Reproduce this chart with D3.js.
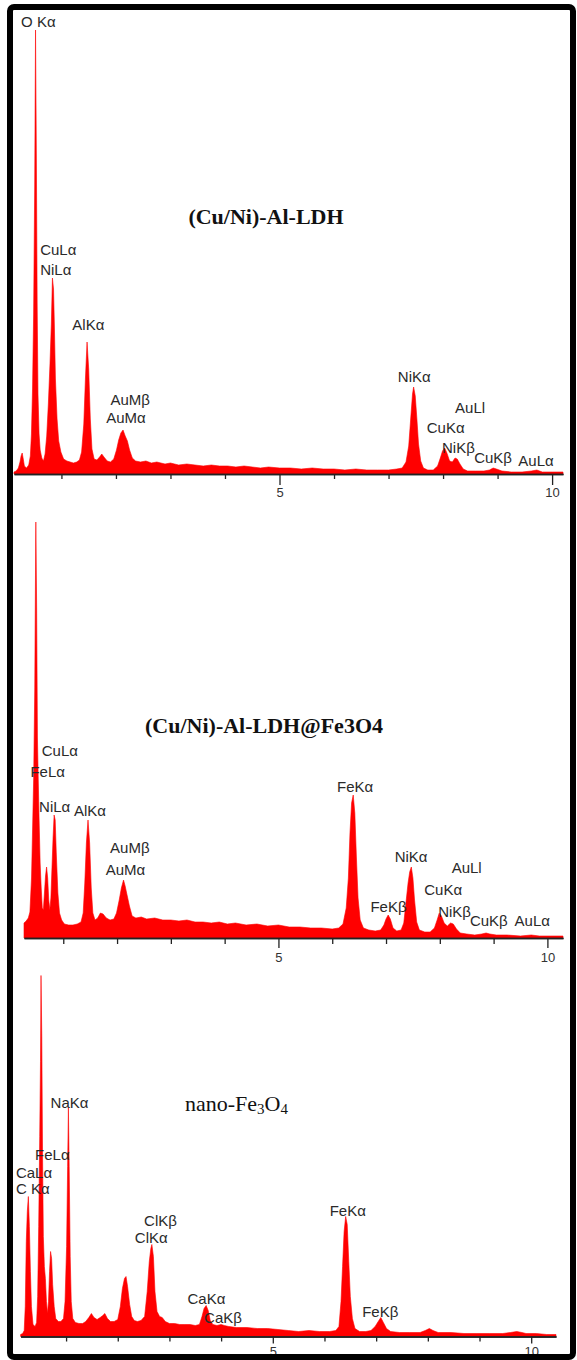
<!DOCTYPE html>
<html>
<head>
<meta charset="utf-8">
<script src="https://cdn.jsdelivr.net/npm/d3@7"></script>
<style>
  body { margin: 0; background: #fff; }
</style>
</head>
<body>
<div id="chart"></div>
<script>
// EDX spectra, [energy keV, counts]
const ldhSpectrum = [[0.13,2],[0.17,3],[0.21,6],[0.24,12],[0.26,18],[0.28,21],[0.30,15],[0.32,8],[0.36,6],[0.40,9],[0.43,18],[0.45,40],[0.47,85],[0.49,160],[0.51,290],[0.525,444],[0.54,320],[0.555,170],[0.57,80],[0.59,40],[0.61,24],[0.64,16],[0.67,13],[0.70,20],[0.73,38],[0.76,70],[0.79,110],[0.815,150],[0.835,196],[0.855,185],[0.87,150],[0.89,95],[0.92,55],[0.95,33],[0.99,22],[1.04,15],[1.10,13],[1.16,12],[1.22,11],[1.28,12],[1.33,14],[1.37,22],[1.41,50],[1.44,95],[1.47,132],[1.50,105],[1.53,55],[1.56,25],[1.60,15],[1.65,14],[1.70,17],[1.74,20],[1.78,17],[1.84,13],[1.90,12],[1.96,15],[2.01,24],[2.05,34],[2.09,41],[2.13,44],[2.17,38],[2.21,33],[2.25,24],[2.30,16],[2.36,13],[2.45,12],[2.55,13],[2.65,11],[2.75,12],[2.9,10],[3.0,11],[3.15,9],[3.3,10],[3.45,9],[3.6,8],[3.75,9],[3.9,8],[4.05,8],[4.2,7],[4.35,8],[4.5,7],[4.65,6],[4.8,7],[5.0,6],[5.2,6],[5.4,5],[5.6,6],[5.8,5],[6.0,5],[6.2,4],[6.4,5],[6.6,4],[6.8,4],[7.0,4],[7.15,5],[7.25,6],[7.32,12],[7.37,28],[7.41,58],[7.44,80],[7.46,87],[7.49,78],[7.52,55],[7.55,30],[7.59,13],[7.64,6],[7.72,4],[7.82,4],[7.90,8],[7.95,16],[7.99,23],[8.03,26],[8.07,21],[8.12,13],[8.17,12],[8.22,16],[8.26,15],[8.31,10],[8.37,5],[8.45,3],[8.6,3],[8.75,3],[8.85,4],[8.92,6],[8.98,5],[9.08,3],[9.25,2],[9.45,2],[9.62,3],[9.72,4],[9.82,2],[10.0,2],[10.2,2]];

const ldhFeSpectrum = [[0.27,15],[0.31,17],[0.35,20],[0.38,26],[0.41,60],[0.43,110],[0.45,160],[0.47,250],[0.49,416],[0.505,330],[0.52,200],[0.535,158],[0.55,120],[0.57,75],[0.59,50],[0.61,30],[0.63,28],[0.65,45],[0.67,62],[0.69,71],[0.71,60],[0.73,38],[0.75,28],[0.77,40],[0.79,70],[0.81,100],[0.83,123],[0.85,118],[0.87,85],[0.90,45],[0.93,25],[0.97,18],[1.02,14],[1.1,13],[1.18,13],[1.26,14],[1.33,16],[1.37,25],[1.40,55],[1.43,95],[1.46,118],[1.49,95],[1.52,50],[1.55,25],[1.59,18],[1.64,20],[1.69,25],[1.74,24],[1.80,20],[1.87,18],[1.94,19],[1.99,25],[2.04,38],[2.08,50],[2.12,58],[2.15,52],[2.19,42],[2.23,32],[2.28,22],[2.35,20],[2.45,21],[2.55,19],[2.7,20],[2.85,18],[3.0,18],[3.15,17],[3.3,18],[3.45,16],[3.6,16],[3.75,15],[3.9,16],[4.05,14],[4.2,15],[4.4,13],[4.6,14],[4.8,12],[5.0,13],[5.2,11],[5.4,11],[5.6,10],[5.8,10],[6.0,9],[6.12,10],[6.20,14],[6.26,30],[6.30,60],[6.33,105],[6.36,135],[6.39,143],[6.42,125],[6.45,80],[6.48,40],[6.52,18],[6.58,10],[6.68,8],[6.8,7],[6.9,8],[6.96,13],[7.0,19],[7.04,23],[7.08,19],[7.13,10],[7.2,7],[7.28,8],[7.33,15],[7.37,35],[7.41,55],[7.44,66],[7.47,71],[7.50,60],[7.53,38],[7.57,16],[7.62,8],[7.72,6],[7.82,6],[7.90,10],[7.95,18],[7.99,25],[8.03,22],[8.08,15],[8.14,12],[8.20,15],[8.25,14],[8.31,9],[8.38,5],[8.5,4],[8.65,3],[8.78,4],[8.86,5],[8.93,4],[9.05,3],[9.25,3],[9.5,2],[9.7,3],[9.85,2],[10.05,2],[10.29,2]];

const feSpectrum = [[0.12,2],[0.16,3],[0.19,6],[0.21,30],[0.23,95],[0.25,125],[0.27,140],[0.29,110],[0.31,65],[0.33,30],[0.36,12],[0.40,10],[0.43,14],[0.45,40],[0.47,110],[0.49,200],[0.505,275],[0.515,361],[0.53,300],[0.545,180],[0.56,100],[0.58,70],[0.60,58],[0.62,35],[0.64,23],[0.66,35],[0.68,65],[0.70,85],[0.72,78],[0.74,52],[0.77,30],[0.80,18],[0.85,15],[0.9,15],[0.95,18],[0.98,35],[1.01,90],[1.03,170],[1.045,229],[1.06,170],[1.08,80],[1.10,35],[1.13,18],[1.18,14],[1.25,13],[1.32,13],[1.38,15],[1.44,19],[1.49,23],[1.54,19],[1.60,17],[1.66,19],[1.71,21],[1.75,23],[1.80,18],[1.86,15],[1.93,15],[2.0,17],[2.05,30],[2.09,48],[2.13,58],[2.16,60],[2.19,50],[2.23,32],[2.27,20],[2.32,16],[2.38,15],[2.45,16],[2.52,20],[2.57,45],[2.61,75],[2.64,88],[2.66,92],[2.69,80],[2.72,45],[2.76,25],[2.81,20],[2.86,19],[2.92,15],[3.0,13],[3.1,13],[3.2,12],[3.3,12],[3.4,12],[3.5,11],[3.58,12],[3.63,20],[3.67,28],[3.71,31],[3.75,26],[3.79,16],[3.84,12],[3.92,11],[4.0,12],[4.06,11],[4.15,10],[4.3,9],[4.5,9],[4.7,8],[4.9,8],[5.1,7],[5.3,6],[5.5,5],[5.7,6],[5.9,5],[6.1,5],[6.22,6],[6.28,10],[6.32,35],[6.35,70],[6.38,105],[6.41,120],[6.44,112],[6.47,75],[6.50,40],[6.54,18],[6.59,8],[6.68,5],[6.8,5],[6.9,6],[6.98,10],[7.04,15],[7.09,19],[7.14,14],[7.2,8],[7.28,5],[7.45,4],[7.65,4],[7.85,4],[7.95,6],[8.03,8],[8.10,6],[8.2,4],[8.45,4],[8.7,3],[8.95,3],[9.2,3],[9.45,3],[9.6,4],[9.72,5],[9.82,4],[9.9,3],[10.1,3],[10.3,2],[10.48,2]];

// peak labels: [text, energy keV, counts level]
const ldhLabels = [["O Kα",0.26,447],["CuLα",0.61,219],["NiLα",0.61,199],["AlKα",1.2,144],["AuMβ",1.9,69],["AuMα",1.82,51],["NiKα",7.17,92],["AuLl",8.22,61],["CuKα",7.7,41],["NiKβ",7.98,21],["CuKβ",8.57,11],["AuLα",9.38,8]];
const ldhFeLabels = [["CuLα",0.6,182],["FeLα",0.39,161],["NiLα",0.55,126],["AlKα",1.2,122],["AuMβ",1.87,85],["AuMα",1.79,63],["FeKα",6.09,146],["NiKα",7.16,76],["AuLl",8.22,65],["CuKα",7.71,43],["FeKβ",6.71,26],["NiKβ",7.97,21],["CuKβ",8.56,12],["AuLα",9.39,12]];
const feLabels = [["NaKα",0.70,229],["FeLα",0.40,177],["CaLα",0.03,159],["C Kα",0.03,143],["ClKβ",2.51,111],["ClKα",2.33,94],["CaKα",3.35,33],["CaKβ",3.67,14],["FeKα",6.1,121],["FeKβ",6.73,20]];

const majorTicks = [5, 10];
const minorTicks = [1, 2, 3, 4, 6, 7, 8, 9];

const width = 577;
const height = 1360;

const svg = d3.select("#chart").append("svg")
  .attr("width", width)
  .attr("height", height);

const panels = [
  { data: ldhSpectrum, labels: ldhLabels, domain: [0.13, 10.2], range: [14, 563], base: 474, minor: 5, major: 11, pad: 3 },
  { data: ldhFeSpectrum, labels: ldhFeLabels, domain: [0.27, 10.29], range: [24, 563], base: 938, minor: 6, major: 10, pad: 5 },
  { data: feSpectrum, labels: feLabels, domain: [0.12, 10.48], range: [20.6, 556], base: 1336.5, minor: 5, major: 7, pad: 3 }
];

panels.forEach(p => {
  const x = d3.scaleLinear().domain(p.domain).range(p.range);
  const y = d3.scaleLinear().domain([0, 450]).range([p.base, p.base - 450]);

  const area = d3.area()
    .x(d => x(d[0]))
    .y0(y(0))
    .y1(d => y(d[1]));

  svg.append("path")
    .datum(p.data)
    .attr("d", area)
    .attr("fill", "#ff0000")
    .attr("stroke", "#ff0000")
    .attr("stroke-width", 0.6);

  const minorAxis = svg.append("g")
    .attr("transform", `translate(0,${p.base})`)
    .call(d3.axisBottom(x).tickValues(minorTicks).tickSize(p.minor).tickSizeOuter(0).tickFormat(""));

  const majorAxis = svg.append("g")
    .attr("transform", `translate(0,${p.base})`)
    .call(d3.axisBottom(x).tickValues(majorTicks).tickSize(p.major).tickPadding(p.pad).tickSizeOuter(0));

  [minorAxis, majorAxis].forEach(g => {
    g.selectAll("path, line").attr("stroke", "#222").attr("stroke-width", 1.3);
    g.selectAll("text")
      .attr("fill", "#333")
      .style("font-family", "'Liberation Sans', Arial, sans-serif")
      .style("font-size", "13px");
  });

  svg.append("g")
    .selectAll("text")
    .data(p.labels)
    .enter().append("text")
    .attr("x", d => x(d[1]))
    .attr("y", d => y(d[2]))
    .attr("fill", "#2a2a2a")
    .style("font-family", "'Liberation Sans', Arial, sans-serif")
    .style("font-size", "15px")
    .text(d => d[0]);
});

// sample titles
svg.append("text")
  .attr("x", 266)
  .attr("y", 224)
  .attr("text-anchor", "middle")
  .attr("fill", "#111")
  .style("font-family", "'Liberation Serif', 'Times New Roman', serif")
  .style("font-size", "22px")
  .style("font-weight", "bold")
  .text("(Cu/Ni)-Al-LDH");

svg.append("text")
  .attr("x", 264)
  .attr("y", 733)
  .attr("text-anchor", "middle")
  .attr("fill", "#111")
  .style("font-family", "'Liberation Serif', 'Times New Roman', serif")
  .style("font-size", "22px")
  .style("font-weight", "bold")
  .text("(Cu/Ni)-Al-LDH@Fe3O4");

const t3 = svg.append("text")
  .attr("x", 185)
  .attr("y", 1111)
  .attr("fill", "#111")
  .style("font-family", "'Liberation Serif', 'Times New Roman', serif")
  .style("font-size", "22px");
t3.append("tspan").text("nano-Fe");
t3.append("tspan").attr("dy", 3).style("font-size", "15px").text("3");
t3.append("tspan").attr("dy", -3).text("O");
t3.append("tspan").attr("dy", 3).style("font-size", "15px").text("4");

// black frame round the three spectra
svg.append("rect")
  .attr("x", 10)
  .attr("y", 7)
  .attr("width", 563)
  .attr("height", 1350)
  .attr("rx", 4)
  .attr("fill", "none")
  .attr("stroke", "#000")
  .attr("stroke-width", 6);
</script>
</body>
</html>
